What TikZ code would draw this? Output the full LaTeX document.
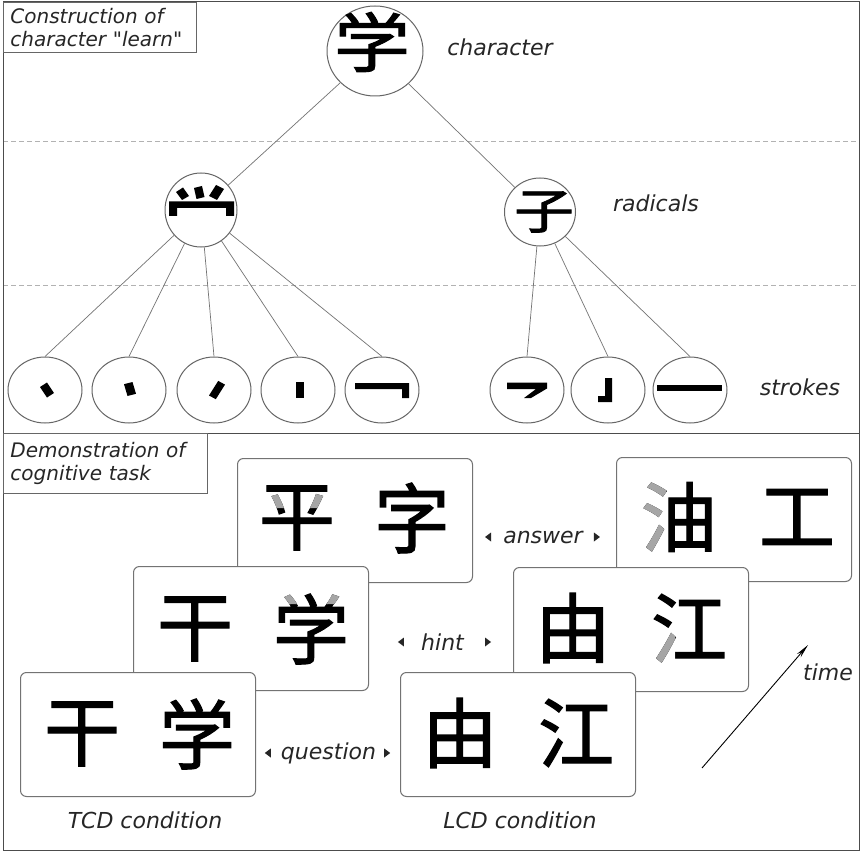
\documentclass[tikz,border=0pt]{standalone}
\usepackage{fontspec}
\usepackage{graphicx}
\setmainfont{DejaVu Sans}
\newfontfamily\lab{DejaVu Sans}
\newfontfamily\cjk{Noto Sans CJK SC}[FakeBold=1.5]
\usetikzlibrary{shapes.geometric,arrows.meta}
\tikzset{
  frame/.style={draw=black!70, line width=1pt},
  sepline/.style={draw=black!30, dash pattern=on 5pt off 3pt, line width=0.8pt},
  tbox/.style={draw=black!60, line width=0.8pt, fill=white, anchor=north west, align=left, inner ysep=0pt, inner xsep=7pt, font=\lab\fontsize{20}{23.5}\selectfont\itshape, text=black!85},
  lbl/.style={font=\lab\fontsize{22}{26}\selectfont\itshape, text=black!85, inner sep=0pt},
  circ/.style={ellipse, draw=black!60, line width=1pt, fill=white, inner sep=0pt},
  conn/.style={draw=black!55, line width=0.7pt},
  card/.style={draw=black!55, line width=1pt, fill=white, rounded corners=6pt, anchor=north west, inner sep=0pt, minimum width=235pt, minimum height=124pt},
  han/.style={font=\cjk\fontsize{76}{80}\selectfont, inner sep=0pt},
  hangray/.style={han, text=black!35},
  stk/.style={fill=black},
  tri/.style={fill=black!85},
}
\begin{document}
\begin{tikzpicture}[x=1pt,y=-1pt]
\useasboundingbox (0,0) rectangle (862,853);
\fill[white] (0,0) rectangle (862,853);
% separators
\draw[sepline] (3,141) -- (859,141);
\draw[sepline] (3,285) -- (859,285);
\draw[frame] (3,2) rectangle (859,850);
\draw[frame] (3,433) -- (859,433);
% title boxes
\node[tbox, minimum height=50pt, text width=179pt] (t1) at (3,2) {Construction of\\character "learn"};
\node[tbox, minimum height=60pt, text width=190pt] (t2) at (3,433) {Demonstration of\\cognitive task};
% tree circles
\node[circ, minimum width=96pt, minimum height=90pt] (ch) at (375,51) {};
\node[circ, minimum width=72pt, minimum height=74pt] (r1) at (201,210) {};
\node[circ, minimum width=71pt, minimum height=68pt] (r2) at (540,212) {};
\foreach \n/\x in {1/45,2/129,3/214,4/298,5/382,6/527,7/608,8/690}
  \node[circ, minimum width=74pt, minimum height=66pt] (s\n) at (\x,390) {};
% connectors
\draw[conn] (ch) -- (r1);
\draw[conn] (ch) -- (r2);
\foreach \n in {1,...,5} \draw[conn] (r1) -- (s\n.north);
\foreach \n in {6,7,8} \draw[conn] (r2) -- (s\n.north);
% character and radicals
\node[han] (gch) at (372,42) {\scalebox{1}[0.85]{学}};
\node[han] (gr2) at (544,212) {\fontsize{60}{60}\selectfont\scalebox{1}[0.8]{子}};
% radical 1 drawn as strokes
\fill[stk] (176,192) -- (183,187.5) -- (189,196) -- (182,200) -- cycle;
\fill[stk] (194,188) -- (202,186) -- (204.5,197) -- (196.5,199) -- cycle;
\fill[stk] (216,185) -- (224,189) -- (217,200) -- (209,196) -- cycle;
\fill[stk] (169,201.5) -- (234,201.5) -- (234,216) -- (226,216) -- (226,208) -- (177,208) -- (177,216) -- (169,216) -- cycle;
% strokes
\fill[stk] (40,387) -- (47,382.5) -- (54,393) -- (47,397.5) -- cycle;
\fill[stk] (124,384.2) -- (132.5,382) -- (136,393.8) -- (127.5,396) -- cycle;
\fill[stk] (218.2,380.9) -- (225,384.6) -- (215.8,399.2) -- (209,395.5) -- cycle;
\fill[stk] (296,382) rectangle (304,398);
\fill[stk] (355,383) -- (409,383) -- (409,398) -- (402,398) -- (402,389) -- (355,389) -- cycle;
\fill[stk] (507,382.5) -- (547,382.5) -- (547,388.5) -- (531,398) -- (524,398) -- (536,389) -- (507,389) -- cycle;
\fill[stk] (605,378) -- (612,378) -- (612,402) -- (598,402) -- (598,396) -- (605,396) -- cycle;
\fill[stk] (657,385) rectangle (722,391);
% labels top
\node[lbl] (lch) at (500,47) {character};
\node[lbl] (lra) at (656,203) {radicals};
\node[lbl] (lst) at (800,387) {strokes};
% ---- cognitive task ----
% back row
\node[card] (cA) at (237,458) {};
\node[card] (cD) at (616,457) {};
\node[han] (a1) at (297,518) {平};
\begin{scope}
  \clip (257,493) rectangle (293,508) (301,493) rectangle (337,508);
  \node[hangray] at (297,518) {平};
\end{scope}
\node[han] (a2) at (412,518) {字};
\node[han] (d1) at (679,517) {油};
\begin{scope}
  \clip (630,470) rectangle (666,565);
  \node[hangray] at (679,517) {油};
\end{scope}
\node[han] (d2) at (797,517) {工};
\node[lbl] (lans) at (543,537) {answer};
\fill[tri] ([xshift=-18pt]lans.west) -- ++(6,-4.5) -- ++(0,9) -- cycle;
\fill[tri] ([xshift=17pt]lans.east) -- ++(-6,-4.5) -- ++(0,9) -- cycle;
% middle row
\node[card] (cB) at (133,566) {};
\node[card] (cE) at (513,567) {};
\node[han] (b1) at (195,629) {干};
\node[han] (b2) at (311,629) {学};
\begin{scope}
  \clip (270,585) rectangle (303,604) (318,585) rectangle (352,604);
  \node[hangray] at (311,629) {学};
\end{scope}
\node[han] (e1) at (573,628) {由};
\node[han] (e2) at (689,628) {江};
\begin{scope}
  \clip (645,631) rectangle (675,672);
  \node[hangray] at (689,628) {江};
\end{scope}
\node[lbl] (lhint) at (442.5,642) {hint};
\fill[tri] ([xshift=-23pt]lhint.west) -- ++(6,-4.5) -- ++(0,9) -- cycle;
\fill[tri] ([xshift=27pt]lhint.east) -- ++(-6,-4.5) -- ++(0,9) -- cycle;
% front row
\node[card] (cC) at (20,672) {};
\node[card] (cF) at (400,672) {};
\node[han] (c1) at (82,734) {干};
\node[han] (c2) at (197,734) {学};
\node[han] (f1) at (460,733) {由};
\node[han] (f2) at (576,733) {江};
\node[lbl] (lq) at (328.5,753) {question};
\fill[tri] ([xshift=-16pt]lq.west) -- ++(6,-4.5) -- ++(0,9) -- cycle;
\fill[tri] ([xshift=14pt]lq.east) -- ++(-6,-4.5) -- ++(0,9) -- cycle;
% conditions
\node[lbl] (ltcd) at (145,820) {TCD condition};
\node[lbl] (llcd) at (520,820) {LCD condition};
% time arrow
\coordinate (tA) at (702,768);
\coordinate (tB) at (808,645);
\draw[line width=0.9pt, -{Stealth[length=14pt,width=5pt]}] (tA) -- (tB);
\node[lbl] (ltime) at (828,672) {time};
\end{tikzpicture}
\end{document}
